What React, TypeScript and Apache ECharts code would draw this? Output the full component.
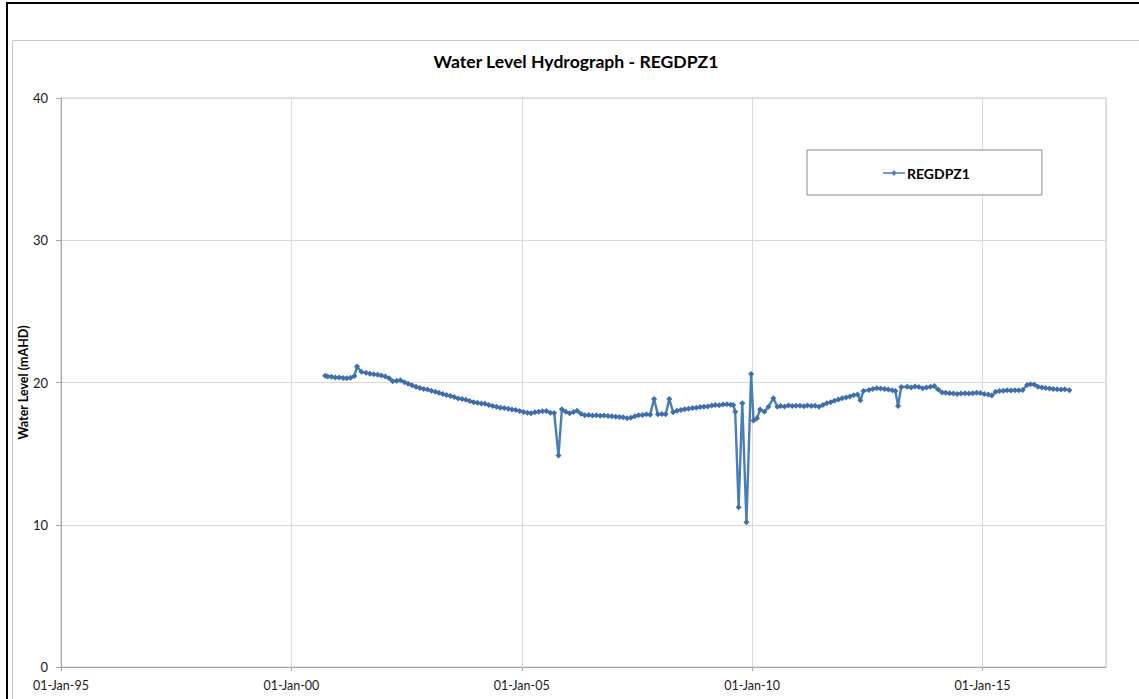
import React, { useEffect, useRef } from "react";
import * as echarts from "echarts";

const TITLE = "Water Level Hydrograph - REGDPZ1";
const SERIES_NAME = "REGDPZ1";
const Y_AXIS_NAME = "Water Level (mAHD)";

// Measurement dates (YYYY-MM-DD)
const dates: string[] = [
  "2000-09-25", "2000-10-15", "2000-11-15", "2000-12-15",
  "2001-01-15", "2001-02-15", "2001-03-15", "2001-04-15", "2001-05-15", "2001-06-05", "2001-07-10", "2001-08-15", "2001-09-15", "2001-10-15", "2001-11-15", "2001-12-15",
  "2002-01-15", "2002-02-15", "2002-03-15", "2002-04-15", "2002-05-15", "2002-06-15", "2002-07-15", "2002-08-15", "2002-09-15", "2002-10-15", "2002-11-15", "2002-12-15",
  "2003-01-15", "2003-02-15", "2003-03-15", "2003-04-15", "2003-05-15", "2003-06-15", "2003-07-15", "2003-08-15", "2003-09-15", "2003-10-15", "2003-11-15", "2003-12-15",
  "2004-01-15", "2004-02-15", "2004-03-15", "2004-04-15", "2004-05-15", "2004-06-15", "2004-07-15", "2004-08-15", "2004-09-15", "2004-10-15", "2004-11-15", "2004-12-15",
  "2005-01-15", "2005-02-15", "2005-03-15", "2005-04-15", "2005-05-15", "2005-06-15", "2005-07-15", "2005-08-15", "2005-09-15", "2005-10-19", "2005-11-15", "2005-12-15",
  "2006-01-15", "2006-02-15", "2006-03-15", "2006-04-15", "2006-05-15", "2006-06-15", "2006-07-15", "2006-08-15", "2006-09-15", "2006-10-15", "2006-11-15", "2006-12-15",
  "2007-01-15", "2007-02-15", "2007-03-15", "2007-04-15", "2007-05-15", "2007-06-15", "2007-07-15", "2007-08-15", "2007-09-15", "2007-10-15", "2007-11-15", "2007-12-15",
  "2008-01-15", "2008-02-15", "2008-03-15", "2008-04-15", "2008-05-15", "2008-06-15", "2008-07-15", "2008-08-15", "2008-09-15", "2008-10-15", "2008-11-15", "2008-12-15",
  "2009-01-15", "2009-02-15", "2009-03-15", "2009-04-15", "2009-05-15", "2009-06-15", "2009-07-15", "2009-08-05", "2009-08-20", "2009-09-16", "2009-10-15", "2009-11-17", "2009-12-24",
  "2010-01-12", "2010-02-08", "2010-03-05", "2010-04-08", "2010-05-10", "2010-06-18", "2010-07-20", "2010-08-15", "2010-09-15", "2010-10-15", "2010-11-15", "2010-12-15",
  "2011-01-15", "2011-02-15", "2011-03-15", "2011-04-15", "2011-05-15", "2011-06-15", "2011-07-15", "2011-08-15", "2011-09-15", "2011-10-15", "2011-11-15", "2011-12-15",
  "2012-01-15", "2012-02-15", "2012-03-15", "2012-04-15", "2012-05-08", "2012-06-01", "2012-07-15", "2012-08-15", "2012-09-15", "2012-10-15", "2012-11-15", "2012-12-15",
  "2013-01-15", "2013-02-10", "2013-03-03", "2013-03-28", "2013-05-15", "2013-06-15", "2013-07-15", "2013-08-15", "2013-09-15", "2013-10-15", "2013-11-15", "2013-12-15",
  "2014-01-15", "2014-02-15", "2014-03-15", "2014-04-15", "2014-05-15", "2014-06-15", "2014-07-15", "2014-08-15", "2014-09-15", "2014-10-15", "2014-11-15", "2014-12-15",
  "2015-01-15", "2015-02-15", "2015-03-15", "2015-04-15", "2015-05-15", "2015-06-15", "2015-07-15", "2015-08-15", "2015-09-15", "2015-10-15", "2015-11-15", "2015-12-20",
  "2016-01-15", "2016-02-15", "2016-03-15", "2016-04-15", "2016-05-15", "2016-06-15", "2016-07-15", "2016-08-15", "2016-09-15", "2016-10-15", "2016-11-20",
];

// Water level (mAHD)
const levels: number[] = [
  20.48, 20.42, 20.40, 20.36,
  20.35, 20.32, 20.30, 20.33, 20.45, 21.12, 20.75, 20.68, 20.62, 20.58, 20.55, 20.50,
  20.42, 20.30, 20.08, 20.12, 20.15, 20.02, 19.92, 19.80, 19.70, 19.62, 19.55, 19.50,
  19.42, 19.35, 19.28, 19.20, 19.12, 19.05, 18.98, 18.88, 18.84, 18.78, 18.70, 18.62,
  18.58, 18.52, 18.50, 18.42, 18.35, 18.30, 18.22, 18.20, 18.15, 18.10, 18.06, 18.00,
  17.92, 17.88, 17.83, 17.90, 17.95, 17.98, 18.00, 17.88, 17.86, 14.86, 18.12, 17.95,
  17.83, 17.92, 18.02, 17.80, 17.70, 17.72, 17.68, 17.70, 17.66, 17.68, 17.64, 17.62,
  17.60, 17.58, 17.55, 17.48, 17.52, 17.62, 17.70, 17.72, 17.76, 17.74, 18.84, 17.76,
  17.78, 17.76, 18.84, 17.90, 18.02, 18.07, 18.12, 18.16, 18.20, 18.22, 18.28, 18.30,
  18.32, 18.38, 18.42, 18.40, 18.45, 18.47, 18.44, 18.42, 17.95, 11.23, 18.54, 10.17, 20.60,
  17.32, 17.48, 18.10, 17.95, 18.30, 18.89, 18.30, 18.35, 18.32, 18.38, 18.34, 18.36,
  18.37, 18.33, 18.38, 18.35, 18.36, 18.30, 18.42, 18.55, 18.62, 18.72, 18.80, 18.89,
  18.95, 19.02, 19.10, 19.15, 18.75, 19.40, 19.48, 19.55, 19.60, 19.58, 19.55, 19.50,
  19.45, 19.40, 18.35, 19.68, 19.70, 19.65, 19.72, 19.68, 19.60, 19.65, 19.70, 19.75,
  19.50, 19.30, 19.28, 19.25, 19.22, 19.20, 19.22, 19.24, 19.22, 19.25, 19.28, 19.26,
  19.20, 19.15, 19.08, 19.35, 19.40, 19.42, 19.45, 19.44, 19.46, 19.45, 19.48, 19.82,
  19.88, 19.86, 19.70, 19.65, 19.62, 19.58, 19.55, 19.53, 19.50, 19.52, 19.45,
];

// Axis settings
const Y_MIN = 0;
const Y_MAX = 40;
const Y_STEP = 10;
const X_MIN_YEAR = 1995;
const X_MAX_YEAR = 2017.68;
const X_STEP_YEARS = 5;

function toDecimalYear(s: string): number {
  const [y, m, d] = s.split("-").map(Number);
  const start = Date.UTC(y, 0, 1);
  const end = Date.UTC(y + 1, 0, 1);
  const t = Date.UTC(y, m - 1, d);
  return y + (t - start) / (end - start);
}

function formatTick(v: number): string {
  const yr = Math.round(v);
  const yy = String(((yr % 100) + 100) % 100).padStart(2, "0");
  return `01-Jan-${yy}`;
}

const FONT = "Lato, 'Open Sans', sans-serif";
const LINE_COLOR = "#4a7ebb";

export default function App() {
  const ref = useRef<HTMLDivElement>(null);

  useEffect(() => {
    if (!ref.current) return;
    const chart = echarts.init(ref.current, undefined, { renderer: "svg" });
    const data = dates.map((d, i) => [toDecimalYear(d), levels[i]]);

    chart.setOption({
      animation: false,
      backgroundColor: "#ffffff",
      textStyle: { fontFamily: FONT },
      graphic: [
        {
          type: "rect",
          shape: { x: 7, y: 3, width: 1200, height: 800 },
          style: { fill: "none", stroke: "#000000", lineWidth: 2 },
          silent: true,
        },
        {
          type: "rect",
          shape: { x: 12.5, y: 40.5, width: 1200, height: 800 },
          style: { fill: "none", stroke: "#c4c4c4", lineWidth: 1 },
          silent: true,
        },
        {
          type: "text",
          x: 576,
          y: 61,
          style: {
            text: TITLE,
            fontFamily: FONT,
            fontSize: 17.6,
            fontWeight: "bold",
            fill: "#000000",
            textAlign: "center",
            textVerticalAlign: "middle",
          },
        },
      ],
      legend: {
        left: 807,
        top: 150,
        orient: "horizontal",
        padding: [16, 72, 15, 76],
        backgroundColor: "#ffffff",
        borderColor: "#8c8c8c",
        borderWidth: 1,
        itemWidth: 22,
        itemHeight: 8,
        itemGap: 0,
        textStyle: { fontFamily: FONT, fontSize: 14, fontWeight: "bold", color: "#000000", padding: [0, 0, 0, -3] },
        data: [
          {
            name: SERIES_NAME,
            icon: "path://M0,3.2 L22,3.2 L22,4.8 L0,4.8 Z M11,1 L13.5,4 L11,7 L8.5,4 Z",
            itemStyle: { color: LINE_COLOR },
          },
        ],
      },
      grid: {
        left: 61,
        right: 33,
        top: 98,
        bottom: 32,
        show: true,
        borderColor: "#c8c8c8",
        borderWidth: 1,
        backgroundColor: "transparent",
      },
      xAxis: {
        type: "value",
        min: X_MIN_YEAR,
        max: X_MAX_YEAR,
        interval: X_STEP_YEARS,
        axisLine: { show: true, lineStyle: { color: "#a6a6a6", width: 1 } },
        axisTick: { show: true, length: 4, lineStyle: { color: "#a6a6a6" } },
        splitLine: { show: true, lineStyle: { color: "#d9d9d9", width: 1 } },
        axisLabel: {
          formatter: (v: number) => formatTick(v),
          showMaxLabel: false,
          margin: 12,
          fontFamily: FONT,
          fontSize: 12.5,
          color: "#1a1a1a",
        },
      },
      yAxis: {
        type: "value",
        min: Y_MIN,
        max: Y_MAX,
        interval: Y_STEP,
        name: Y_AXIS_NAME,
        nameLocation: "middle",
        nameRotate: 90,
        nameGap: 31,
        nameMoveOverlap: false,
        nameTextStyle: { fontFamily: FONT, fontSize: 12.5, fontWeight: "bold", color: "#000000" },
        axisLine: { show: true, lineStyle: { color: "#a6a6a6", width: 1 } },
        axisTick: { show: true, length: 5, lineStyle: { color: "#a6a6a6" } },
        splitLine: { show: true, lineStyle: { color: "#d9d9d9", width: 1 } },
        axisLabel: { margin: 13, fontFamily: FONT, fontSize: 13, color: "#1a1a1a" },
      },
      series: [
        {
          name: SERIES_NAME,
          type: "line",
          data,
          symbol: "diamond",
          symbolSize: 6,
          showSymbol: true,
          lineStyle: { color: LINE_COLOR, width: 2.4 },
          itemStyle: { color: "#3f6fa8" },
          clip: true,
        },
      ],
    });

    return () => chart.dispose();
  }, []);

  return (
    <div
      ref={ref}
      style={{ position: "fixed", left: 0, top: 0, width: 1139, height: 699, background: "#fff" }}
    />
  );
}
